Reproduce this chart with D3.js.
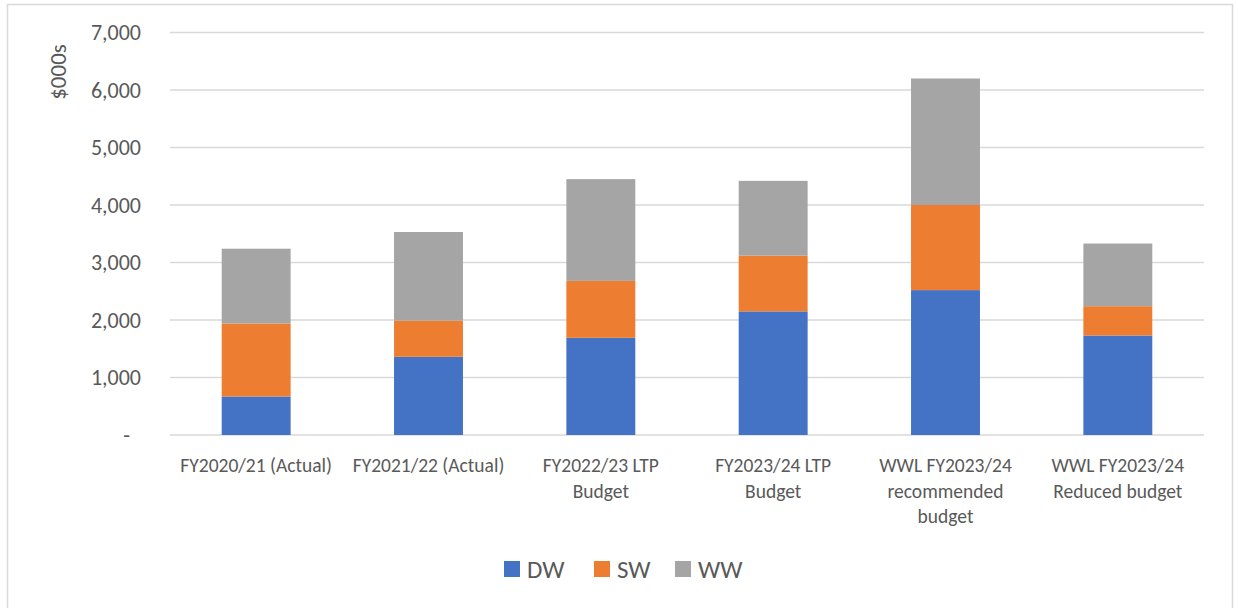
<!DOCTYPE html>
<html>
<head>
<meta charset="utf-8">
<script src="https://cdnjs.cloudflare.com/ajax/libs/d3/7.8.5/d3.min.js"></script>
<style>
  body { margin: 0; background: #fff; }
  text { font-family: Carlito, Lato, "Open Sans", sans-serif; fill: #595959; }
</style>
</head>
<body>
<svg id="chart" width="1238" height="608"></svg>
<script>
// categories (each as its wrapped label lines)
const categories = [
  ["FY2020/21 (Actual)"],
  ["FY2021/22 (Actual)"],
  ["FY2022/23 LTP", "Budget"],
  ["FY2023/24 LTP", "Budget"],
  ["WWL FY2023/24", "recommended", "budget"],
  ["WWL FY2023/24", "Reduced budget"]
];
const seriesNames = ["DW", "SW", "WW"];
const colors = ["#4472C4", "#ED7D31", "#A5A5A5"];
const dwValues = [670, 1360, 1690, 2150, 2520, 1730];
const swValues = [1270, 630, 990, 970, 1480, 510];
const wwValues = [1300, 1540, 1770, 1300, 2200, 1090];
const yTicks = [0, 1000, 2000, 3000, 4000, 5000, 6000, 7000];

const svg = d3.select("#chart");

// outer border of chart area
svg.append("rect")
  .attr("x", 7.5).attr("y", 4.5)
  .attr("width", 1225).attr("height", 620)
  .attr("fill", "none")
  .attr("stroke", "#D9D9D9")
  .attr("stroke-width", 1.5);

const plotLeft = 170, plotRight = 1204, plotTop = 32.5, plotBottom = 435;

const rows = categories.map((c, i) => ({ key: i, DW: dwValues[i], SW: swValues[i], WW: wwValues[i] }));
const stack = d3.stack().keys(seriesNames)(rows);

const x = d3.scaleBand()
  .domain(d3.range(categories.length))
  .range([plotLeft, plotRight])
  .paddingInner(0.6)
  .paddingOuter(0.3);

const y = d3.scaleLinear().domain([0, 7000]).range([plotBottom, plotTop]);

// gridlines
svg.append("g")
  .selectAll("line")
  .data(yTicks)
  .join("line")
  .attr("x1", plotLeft).attr("x2", plotRight)
  .attr("y1", d => y(d)).attr("y2", d => y(d))
  .attr("stroke", "#D9D9D9")
  .attr("stroke-width", 1.5);

// y axis labels
const yAxis = d3.axisLeft(y)
  .tickValues(yTicks)
  .tickSize(0)
  .tickPadding(0)
  .tickFormat(d => d === 0 ? "-" : d3.format(",")(d));
const yg = svg.append("g")
  .attr("transform", `translate(141,0)`)
  .call(yAxis);
yg.select(".domain").remove();
yg.selectAll("text")
  .attr("font-size", "22px")
  .attr("fill", "#595959")
  .style("font-family", "Carlito, Lato, 'Open Sans', sans-serif")
  .attr("dx", d => d === 0 ? -11 : 0)
  .attr("dy", "0.34em");

// y title
svg.append("text")
  .attr("transform", "translate(66,72) rotate(-90)")
  .attr("text-anchor", "middle")
  .attr("font-size", "23px")
  .text("$000s");

// bars
svg.append("g")
  .selectAll("g")
  .data(stack)
  .join("g")
  .attr("fill", (d, i) => colors[i])
  .selectAll("rect")
  .data(d => d)
  .join("rect")
  .attr("x", (d, i) => x(i))
  .attr("width", x.bandwidth())
  .attr("y", d => y(d[1]))
  .attr("height", d => y(d[0]) - y(d[1]));

// x labels
const xl = svg.append("g")
  .selectAll("text")
  .data(categories)
  .join("text")
  .attr("x", (d, i) => x(i) + x.bandwidth() / 2)
  .attr("y", 472)
  .attr("text-anchor", "middle")
  .attr("font-size", "19.5px");
xl.selectAll("tspan")
  .data(d => d)
  .join("tspan")
  .attr("x", function () { return this.parentNode.getAttribute("x"); })
  .attr("dy", (d, i) => i === 0 ? 0 : 25.5)
  .text(d => d);

// legend
const legendX = [504, 594, 675];
const lg = svg.append("g")
  .selectAll("g")
  .data(seriesNames)
  .join("g")
  .attr("transform", (d, i) => `translate(${legendX[i]},561)`);
lg.append("rect")
  .attr("width", 16).attr("height", 16)
  .attr("fill", (d, i) => colors[i]);
lg.append("text")
  .attr("x", 23).attr("y", 16.5)
  .attr("font-size", "25px")
  .text(d => d);
</script>
</body>
</html>
